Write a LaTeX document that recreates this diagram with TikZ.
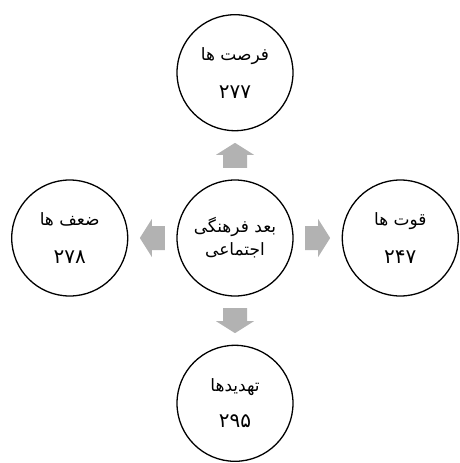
\documentclass[tikz,border=0pt]{standalone}
\usepackage{fontspec}
\newfontfamily\arabicfont[Script=Arabic]{DejaVu Sans}
\TeXXeTstate=1
\usetikzlibrary{positioning,calc}
\newcommand{\swotnum}[1]{{\fontsize{20}{20}\selectfont #1}}
\tikzset{
    swot node/.style = {
        draw, circle,
        line width=1.3pt,
        minimum size=116pt,
        inner sep=0pt,
        align=center,
        font=\arabicfont\fontsize{17}{20}\selectfont,
        },
    arrow fill/.style = {
        fill=gray!60,
        },
    pics/block arrow/.style = {
        code = {
            \fill[arrow fill] (-12.5,-12) -- (0.5,-12) -- (0.5,-19) -- (12.5,0)
                -- (0.5,19) -- (0.5,12) -- (-12.5,12) -- cycle;
            },
        },
}

\begin{document}
\begin{tikzpicture}[x=1pt, y=1pt, node distance=48pt]
    \useasboundingbox (0,0) rectangle (460,-463);

    \node[swot node] (core) at (235,-238) {\beginR بعد فرهنگی\endR\\[3pt]\beginR اجتماعی\endR};
    \node[swot node, above=of core] (chance) {\beginR فرصت ها\endR\\[18pt]\swotnum{۲۷۷}};
    \node[swot node, left=of core] (weak) {\beginR ضعف ها\endR\\[18pt]\swotnum{۲۷۸}};
    \node[swot node, right=of core] (strong) {\beginR قوت ها\endR\\[18pt]\swotnum{۲۴۷}};
    \node[swot node, below=of core] (threat) {\beginR تهدیدها\endR\\[16pt]\swotnum{۲۹۵}};

    % block arrows out of the core
    \pic[rotate=90] (up) at ($(core)!0.5!(chance)$) {block arrow};
    \pic[rotate=180] (lt) at ($(core)!0.5!(weak)$) {block arrow};
    \pic (rt) at ($(core)!0.5!(strong)$) {block arrow};
    \pic[rotate=270] (dn) at ($(core)!0.5!(threat)$) {block arrow};
\end{tikzpicture}
\end{document}
